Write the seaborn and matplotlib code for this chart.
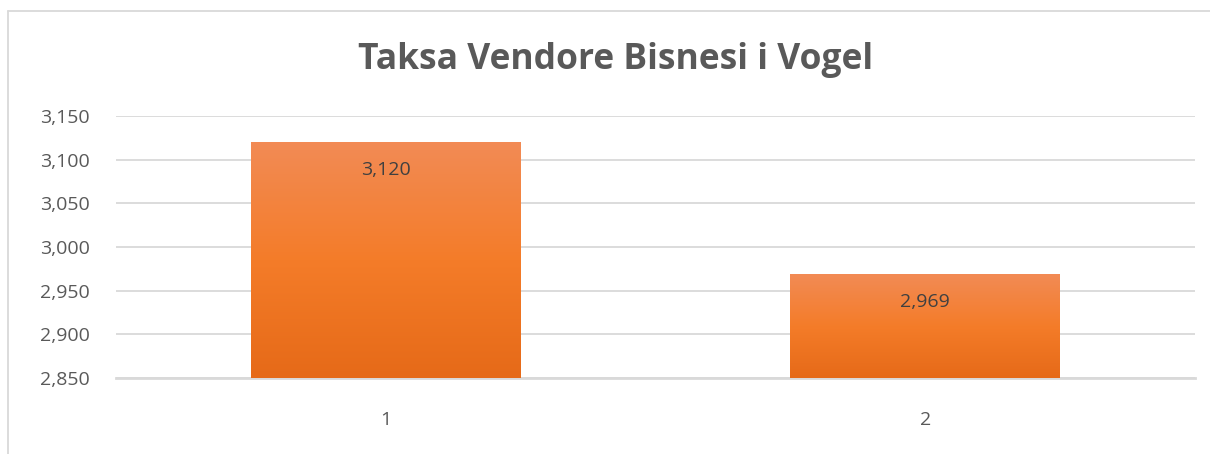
import numpy as np
import pandas as pd
import matplotlib
matplotlib.use("Agg")
import matplotlib.pyplot as plt
import seaborn as sns
from matplotlib.colors import LinearSegmentedColormap
from matplotlib.lines import Line2D

categories = ["1", "2"]
values = [3120, 2969]
labels = ["3,120", "2,969"]
yticks = [2850, 2900, 2950, 3000, 3050, 3100, 3150]

TEXT = "#595959"
GRID = "#D9D9D9"

sns.set_style("white")
plt.rcParams["font.family"] = ["Open Sans", "DejaVu Sans"]

df = pd.DataFrame({"cat": categories, "val": values})

fig = plt.figure(figsize=(12.1, 4.54), dpi=100)
ax = fig.add_axes([116 / 1210, 1 - 378 / 454, (1195 - 116) / 1210, (378 - 116) / 454])

sns.barplot(data=df, x="cat", y="val", color="#ED7D31", width=0.5, ax=ax, zorder=3)
ax.set_ylim(2850, 3150)
ax.set_xlim(-0.5, 1.5)
ax.set_yticks(yticks)
ax.set_yticklabels([f"{v:,}" for v in yticks])
ax.yaxis.grid(True, color=GRID, linewidth=1.3, zorder=0)
ax.set_axisbelow(True)
for s in ["top", "right", "left"]:
    ax.spines[s].set_visible(False)
ax.spines["bottom"].set_color(GRID)
ax.spines["bottom"].set_linewidth(2)
ax.tick_params(axis="both", length=0, labelsize=14, labelcolor=TEXT)
ax.tick_params(axis="y", pad=19)
ax.tick_params(axis="x", pad=24)
ax.set_xlabel("")
ax.set_ylabel("")

# vertical gradient fill on the bars
grad = LinearSegmentedColormap.from_list("og", ["#E66A18", "#F47C29", "#F28B55"])
img = np.linspace(0, 1, 256).reshape(-1, 1)
for patch in ax.patches:
    x0, y0 = patch.get_x(), patch.get_y()
    w, h = patch.get_width(), patch.get_height()
    patch.set_edgecolor("none")
    im = ax.imshow(img, cmap=grad, origin="lower", aspect="auto",
                   extent=[x0, x0 + w, 2850, y0 + h], zorder=4)
    im.set_clip_path(patch)

for i, (v, lab) in enumerate(zip(values, labels)):
    ax.annotate(lab, (i, v), xytext=(0, -20), textcoords="offset points",
                ha="center", va="center", fontsize=14, color="#404040", zorder=5)

fig.text(616 / 1210, 1 - 60 / 454, "Taksa Vendore Bisnesi i Vogel",
         ha="center", va="center", fontsize=25.5, fontweight="bold", color=TEXT)

# chart frame
fig.add_artist(Line2D([8 / 1210, 1], [1 - 11 / 454] * 2, color=GRID, lw=1.3,
                      transform=fig.transFigure))
fig.add_artist(Line2D([8 / 1210] * 2, [0, 1 - 11 / 454], color=GRID, lw=1.3,
                      transform=fig.transFigure))

plt.savefig("out.png", dpi=100)
plt.close()
